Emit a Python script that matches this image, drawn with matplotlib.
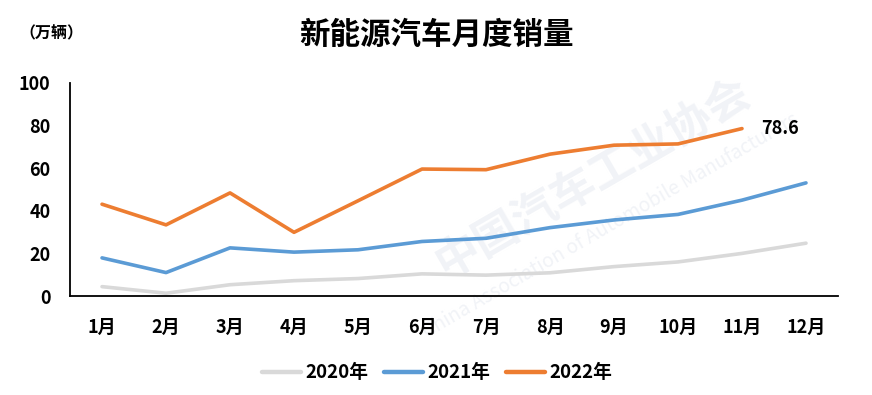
import matplotlib.pyplot as plt

plt.rcParams['font.family'] = ['Noto Sans CJK SC', 'DejaVu Sans']

months = ["1月", "2月", "3月", "4月", "5月", "6月", "7月", "8月", "9月", "10月", "11月", "12月"]
sales_2020 = [4.4, 1.3, 5.3, 7.2, 8.2, 10.4, 9.8, 10.9, 13.8, 16.0, 20.0, 24.8]
sales_2021 = [17.9, 11.0, 22.6, 20.6, 21.7, 25.6, 27.1, 32.1, 35.7, 38.3, 45.0, 53.1]
sales_2022 = [43.1, 33.4, 48.4, 29.9, 44.7, 59.6, 59.3, 66.6, 70.8, 71.4, 78.6]

series = [
    (sales_2020, "2020年", "#d9d9d9"),
    (sales_2021, "2021年", "#5b9bd5"),
    (sales_2022, "2022年", "#ed7d31"),
]

fig = plt.figure(figsize=(8.72, 3.95), dpi=100)

# faint watermark, behind the axes
wm = "#f1f3f7"
fig.text(0.68, 0.55, "中国汽车工业协会", fontsize=32, fontweight="bold", color=wm,
         rotation=30, ha="center", va="center", zorder=0)
fig.text(0.70, 0.43, "China Association of Automobile Manufacturers", fontsize=14, color=wm,
         rotation=30, ha="center", va="center", zorder=0)

ax = fig.add_axes([0.0803, 0.2506, 0.8807, 0.5393])
ax.set_zorder(2)
ax.patch.set_alpha(0)

x = list(range(1, 13))
for vals, label, color in series:
    ax.plot(x[:len(vals)], vals, color=color, lw=2.6, label=label, solid_capstyle="round")

ax.annotate("78.6", (11, sales_2022[-1]), xytext=(14, 0), textcoords="offset points",
            fontsize=13, fontweight="bold", va="center", ha="left")

ax.set_xlim(0.5, 12.5)
ax.set_ylim(0, 100)
ax.set_yticks(range(0, 101, 20))
ax.set_xticks(x)
ax.set_xticklabels(months)
ax.tick_params(length=0, labelsize=13)
ax.tick_params(axis="x", pad=16)
ax.tick_params(axis="y", pad=14)
for lab in ax.get_xticklabels() + ax.get_yticklabels():
    lab.set_fontweight("bold")
for s in ["top", "right"]:
    ax.spines[s].set_visible(False)
for s in ["left", "bottom"]:
    ax.spines[s].set_linewidth(1.3)
    ax.spines[s].set_color("black")

fig.text(0.5, 0.912, "新能源汽车月度销量", fontsize=22, fontweight="black", ha="center", va="center")
fig.text(0.022, 0.915, "（万辆）", fontsize=11.5, fontweight="bold", ha="left", va="center")

leg = ax.legend(loc="center", bbox_to_anchor=(0.478, -0.36), ncol=3, frameon=False,
                prop={"weight": "bold", "size": 13.5}, handlelength=2.1, columnspacing=0.8,
                handletextpad=0.25)
for h in leg.get_lines():
    h.set_linewidth(3.2)

fig.savefig("out.png", dpi=100)
